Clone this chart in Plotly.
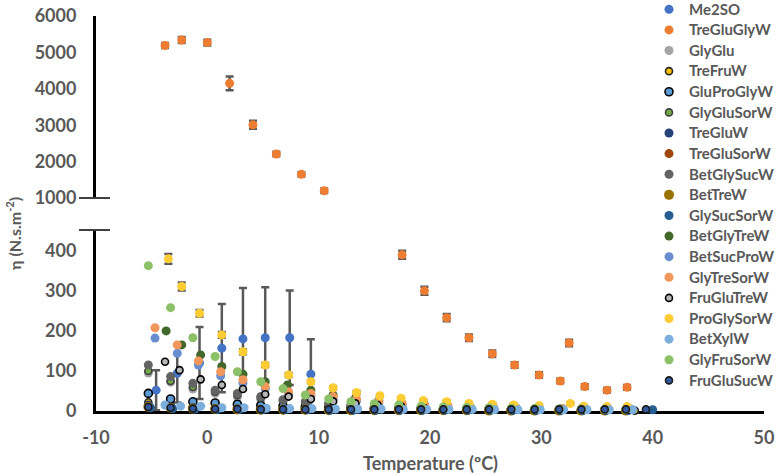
import plotly.graph_objects as go

# ---------------- data ----------------
t_a = [-5.3, -3.3, -1.3, 0.7, 2.7, 4.8, 6.8, 8.8, 10.9, 12.9, 15.0, 17.2, 19.2, 21.2, 23.3, 25.3, 27.3, 29.4, 31.6, 33.6, 35.7, 37.6]
t_b = [-4.7, -2.7, -0.8, 1.2, 3.2, 5.2, 7.3, 9.3, 11.3, 13.4, 15.4, 17.5, 19.5, 21.6, 23.6, 25.7, 27.7, 29.8, 31.9, 34.0, 36.0, 38.0]
t_c = [-3.8, -2.4, -0.6, 1.3, 3.3, 5.3, 7.4, 9.4, 11.5, 13.5, 15.6, 17.6, 19.7, 21.7, 23.8, 25.8, 27.9, 29.9, 32.0, 34.1, 36.1, 38.2]

me2so_t = [-4.6, -2.7, -0.7, 1.3, 3.2, 5.2, 7.4, 9.3]
me2so_v = [52, 94, 120, 157, 180, 183, 183, 92]
me2so_e = [50, 73, 90, 110, 127, 126, 118, 87]

treglugly_t = [-3.8, -2.3, 0.0, 2.0, 4.1, 6.2, 8.45, 10.5, 17.5, 19.5, 21.5, 23.5, 25.6, 27.6, 29.8, 31.7, 32.5, 33.9, 35.9, 37.7]
treglugly_v = [5190, 5340, 5270, 4150, 3010, 2210, 1650, 1200, 390, 300, 233, 183, 143, 115, 90, 75, 170, 61, 52, 59]
treglugly_e = [70, 80, 80, 190, 110, 60, 60, 60, 10, 10, 9, 8, 8, 7, 7, 6, 8, 6, 6, 6]

glyglu_v = [95, 72, 55, 44, 35, 28, 23, 19, 15, 12, 10, 8, 7, 6, 5, 5, 4, 4, 3, 3, 3, 2]
trefru_t = [-5.3, -3.3, -1.3, 0.7, 2.7, 4.8, 6.8, 8.8, 10.9, 12.9, 15.0, 17.2, 19.2, 21.2, 23.3, 25.3, 27.3, 29.4, 31.6, 33.6, 35.7, 38.4]
trefru_v = [22, 14, 10, 8, 6, 5, 4, 4, 3, 3, 3, 2, 2, 2, 2, 2, 2, 2, 1, 1, 1, 1]
gluprogly_v = [44, 30, 23, 20, 17, 14, 12, 10, 8, 7, 6, 5, 5, 4, 4, 3, 3, 3, 3, 2, 2, 2]
glyglusor_v = [100, 75, 60, 48, 40, 33, 27, 22, 18, 14, 11, 9, 8, 7, 6, 5, 5, 4, 4, 3, 3, 3]
treglu_v = [15, 10, 8, 6, 5, 4, 3, 3, 3, 2, 2, 2, 2, 2, 2, 1, 1, 1, 1, 1, 1, 1]
treglusor_v = [12, 9, 7, 5, 4, 4, 3, 3, 3, 2, 2, 2, 2, 2, 1, 1, 1, 1, 1, 1, 1, 1]
betglysuc_v = [115, 86, 69, 52, 44, 36, 28, 23, 19, 15, 12, 10, 9, 8, 7, 6, 5, 5, 4, 4, 3, 3]
bettre_v = [10, 8, 6, 5, 4, 3, 3, 3, 2, 2, 2, 2, 2, 2, 2, 1, 1, 1, 1, 1, 1, 1]
glysucsor_t = [-5.1, -3.1, -1.1, 0.9, 2.9, 4.9, 7.0, 9.0, 11.0, 13.1, 15.1, 17.3, 19.3, 21.3, 23.4, 25.4, 27.4, 29.5, 31.7, 33.7, 35.8, 37.8, 40.0]
glysucsor_v = [8, 6, 5, 4, 4, 3, 3, 3, 2, 2, 2, 2, 2, 2, 2, 2, 1, 1, 1, 1, 1, 1, 3]
betglytre_t = [-3.7, -2.3, -0.6, 1.3, 3.2, 5.2, 7.2, 9.3, 11.3, 13.3, 15.4, 17.4, 19.5, 21.5, 23.6, 25.6, 27.7, 29.7, 31.8, 33.9, 35.9, 38.0]
betglytre_v = [200, 165, 140, 111, 92, 73, 65, 52, 40, 32, 26, 20, 16, 13, 11, 9, 8, 7, 6, 5, 5, 4]
betsucpro_v = [182, 144, 115, 88, 70, 55, 44, 38, 30, 25, 20, 16, 13, 11, 9, 8, 7, 6, 5, 5, 4, 4]
glytresor_v = [208, 165, 125, 98, 78, 61, 48, 44, 36, 30, 24, 19, 16, 13, 11, 9, 8, 7, 6, 5, 5, 5]
fruglutre_t = [-3.8, -2.5, -0.6, 1.3, 3.2, 5.2, 7.3, 9.3, 11.3, 13.3, 15.3, 17.4, 19.4, 21.4, 23.5, 25.5, 27.6, 29.6, 31.7, 33.8, 35.8, 37.9]
fruglutre_v = [123, 102, 79, 65, 55, 42, 36, 30, 24, 19, 15, 12, 10, 8, 7, 6, 5, 5, 4, 4, 3, 3]
proglysor_t = [-3.5, -2.3, -0.7, 1.3, 3.2, 5.2, 7.3, 9.3, 11.3, 13.4, 15.5, 17.4, 19.4, 21.5, 23.5, 25.6, 27.5, 29.8, 32.6, 33.8, 35.9, 37.7]
proglysor_v = [380, 311, 244, 190, 148, 115, 90, 73, 58, 46, 38, 32, 26, 23, 19, 17, 15, 13, 19, 12, 11, 11]
proglysor_e = [12, 10, 8, 7, 6, 5, 5, 4, 4, 4, 3, 3, 3, 3, 3, 3, 3, 3, 3, 3, 3, 3]
betxyl_v = [15, 12, 12, 8, 8, 7, 6, 6, 5, 5, 5, 4, 4, 4, 4, 3, 3, 3, 3, 3, 3, 3]
glyfrusor_v = [363, 258, 183, 136, 98, 73, 56, 40, 30, 23, 18, 15, 12, 10, 9, 8, 7, 6, 5, 5, 4, 4]
fruglusuc_t = [-5.3, -3.3, -1.3, 0.7, 2.7, 4.8, 6.8, 8.8, 10.9, 12.9, 15.0, 17.2, 19.2, 21.2, 23.3, 25.3, 27.3, 29.4, 31.6, 33.6, 35.7, 37.6, 39.4]
fruglusuc_v = [10, 8, 6, 5, 5, 4, 4, 4, 4, 4, 4, 4, 4, 4, 4, 4, 4, 4, 4, 4, 4, 4, 4]

x_ticks = [-10, 0, 10, 20, 30, 40, 50]
x_tick_labels = ["-10", "0", "10", "20", "30", "40", "50"]
y_low_ticks = [0, 100, 200, 300, 400]
y_high_ticks = [1000, 2000, 3000, 4000, 5000, 6000]

# ---------------- style ----------------
GRAY_TXT = "#595959"
FONT = "Lato"
ERRC = "#595959"
LEG_TXT_PX = 15

fig = go.Figure()


def add(name, t, v, color, size=9, outline=None, err=None, yaxis="y", showlegend=True):
    marker = dict(color=color, size=size, line=dict(width=0))
    if outline:
        marker["line"] = dict(color=outline, width=1.6)
    kw = {}
    if err is not None:
        kw["error_y"] = dict(type="data", array=err, visible=True, color=ERRC,
                             thickness=2.5, width=4)
    label = f"<span style='font-size:{LEG_TXT_PX}px'>{name}</span>"
    fig.add_trace(go.Scatter(x=t, y=v, mode="markers", name=label, marker=marker,
                             yaxis=yaxis, xaxis="x", cliponaxis=False,
                             legendgroup=name, showlegend=showlegend, **kw))


# split TreGluGlyW between the two panels
tg_hi = [(t, v, e) for t, v, e in zip(treglugly_t, treglugly_v, treglugly_e) if v >= 1000]
tg_lo = [(t, v, e) for t, v, e in zip(treglugly_t, treglugly_v, treglugly_e) if v < 1000]

add("Me2SO", me2so_t, me2so_v, "#4472C4", err=me2so_e)
add("TreGluGlyW", [p[0] for p in tg_lo], [p[1] for p in tg_lo], "#ED7D31",
    err=[p[2] for p in tg_lo])
add("GlyGlu", t_a, glyglu_v, "#A5A5A5")
add("TreFruW", trefru_t, trefru_v, "#FFC000", size=7, outline="#262626")
add("GluProGlyW", t_a, gluprogly_v, "#5B9BD5", size=8, outline="#000000")
add("GlyGluSorW", t_a, glyglusor_v, "#70AD47", size=7, outline="#404040")
add("TreGluW", t_a, treglu_v, "#264478")
add("TreGluSorW", t_a, treglusor_v, "#9E480E")
add("BetGlySucW", t_a, betglysuc_v, "#636363")
add("BetTreW", t_a, bettre_v, "#997300", size=10)
add("GlySucSorW", glysucsor_t, glysucsor_v, "#255E91")
add("BetGlyTreW", betglytre_t, betglytre_v, "#43682B")
add("BetSucProW", t_b, betsucpro_v, "#698ED0")
add("GlyTreSorW", t_b, glytresor_v, "#F1975A")
add("FruGluTreW", fruglutre_t, fruglutre_v, "#B7B7B7", size=7, outline="#000000")
add("ProGlySorW", proglysor_t, proglysor_v, "#FFCD33", err=proglysor_e)
add("BetXylW", t_c, betxyl_v, "#7CAFDD")
add("GlyFruSorW", t_a, glyfrusor_v, "#8CC168")
add("FruGluSucW", fruglusuc_t, fruglusuc_v, "#335AA1", size=7, outline="#1a1a1a")

add("TreGluGlyW", [p[0] for p in tg_hi], [p[1] for p in tg_hi], "#ED7D31",
    err=[p[2] for p in tg_hi], yaxis="y2", showlegend=False)

# ---------------- layout ----------------
W, H = 783, 475
L, R, T, B = 96, 19, 16, 64
plot_w = W - L - R
plot_h = H - T - B
low_top = (411 - 230) / plot_h
high_bot = (411 - 198) / plot_h

tickfont = dict(family=FONT, size=18, color=GRAY_TXT, weight="bold")

fig.update_layout(
    width=W, height=H,
    margin=dict(l=L, r=R, t=T, b=B, autoexpand=False),
    paper_bgcolor="white", plot_bgcolor="white",
    showlegend=True,
    legend=dict(x=(649 - L) / plot_w, xanchor="left",
                y=(411 + 6) / plot_h, yanchor="top", maxheight=470,
                font=dict(family=FONT, size=13.55, color=GRAY_TXT, weight="bold"),
                bgcolor="rgba(0,0,0,0)", tracegroupgap=0, itemwidth=30),
    xaxis=dict(range=[-10, 50], tickvals=x_ticks, ticktext=x_tick_labels,
               showgrid=False, zeroline=False,
               showline=True, linecolor="black", linewidth=3, ticks="",
               tickfont=tickfont, anchor="y", layer="below traces",
               ticklabelstandoff=8),
    yaxis=dict(domain=[0, low_top], range=[0, 452], tickvals=y_low_ticks,
               showgrid=False, zeroline=False, showline=True, linecolor="black",
               linewidth=3, ticks="", tickfont=tickfont, anchor="x",
               layer="below traces", ticklabelstandoff=13),
    yaxis2=dict(domain=[high_bot, 1], range=[1000, 6000], tickvals=y_high_ticks,
                showgrid=False, zeroline=False, showline=True, linecolor="black",
                linewidth=3, ticks="", tickfont=tickfont, anchor="x",
                layer="below traces", ticklabelstandoff=13),
    annotations=[
        dict(text="Temperature (ºC)", xref="paper", yref="paper", x=0.5,
             y=(411 - 463) / plot_h, xanchor="center", yanchor="middle",
             showarrow=False, font=dict(family=FONT, size=18, color=GRAY_TXT, weight="bold")),
        dict(text="η (N.s.m<sup>-2</sup>)", xref="paper", yref="paper",
             x=(13 - L) / plot_w, y=(411 - 234) / plot_h, xanchor="center",
             yanchor="middle", textangle=-90, showarrow=False,
             font=dict(family=FONT, size=16, color=GRAY_TXT, weight="bold")),
    ],
    shapes=[
        dict(type="line", xref="paper", yref="paper",
             x0=(79 - L) / plot_w, x1=(110 - L) / plot_w,
             y0=high_bot, y1=high_bot, line=dict(color="#404040", width=2)),
        dict(type="line", xref="paper", yref="paper",
             x0=(79 - L) / plot_w, x1=(110 - L) / plot_w,
             y0=low_top, y1=low_top, line=dict(color="#404040", width=2)),
    ],
)

fig.write_html("out.html", config={"displayModeBar": False},
               post_script="document.body.style.margin='0';document.body.style.padding='0';")
